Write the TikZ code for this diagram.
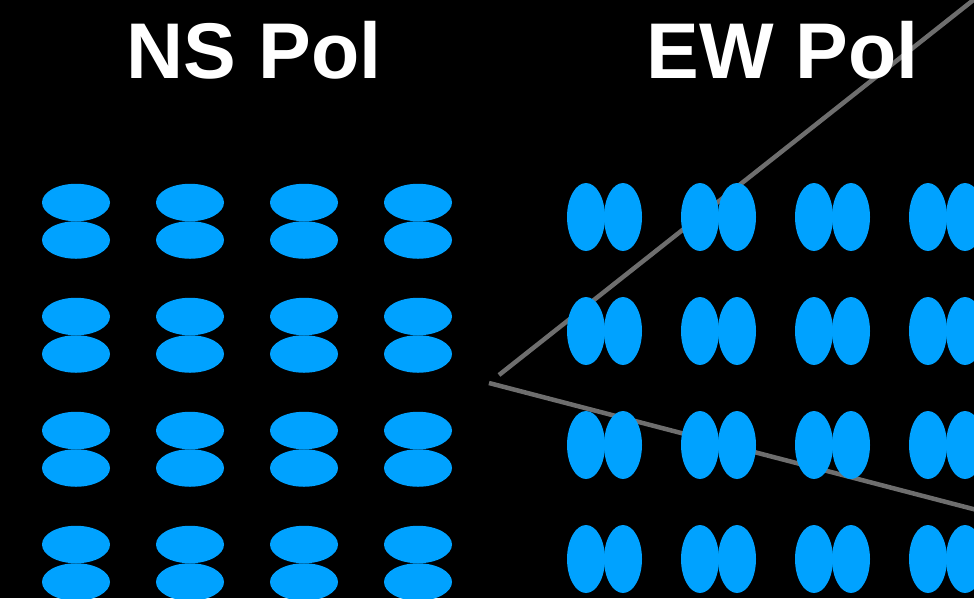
\documentclass[tikz,border=0pt]{standalone}
\usepackage{fontspec}
\setmainfont{Liberation Sans}
\definecolor{dip}{HTML}{00A2FF}
\definecolor{beam}{HTML}{6E6E6E}
\tikzset{
  nsel/.style={ellipse,fill=dip,inner sep=0pt,minimum width=68pt,minimum height=37.5pt},
  ewel/.style={ellipse,fill=dip,inner sep=0pt,minimum width=38pt,minimum height=68pt},
  title/.style={text=white,font=\fontsize{79}{90}\selectfont\bfseries,anchor=base,inner sep=0pt},
  beamline/.style={draw=beam,line width=4.5pt}
}
\usetikzlibrary{shapes.geometric}
\begin{document}
\begin{tikzpicture}[x=1pt,y=-1pt]
\fill[black] (0,0) rectangle (974,598);
\useasboundingbox (0,0) rectangle (974,598);
\begin{scope}
\clip (0,0) rectangle (974,598);
% beams
\coordinate (b1s) at (499,375);
\coordinate (b1e) at (1000,-21);
\coordinate (b2s) at (489,383);
\coordinate (b2e) at (1000,516);
\draw[beamline] (b1s) -- (b1e);
\draw[beamline] (b2s) -- (b2e);
% titles
\node[title] (ns) at (254,78.3) {NS Pol};
\node[title] (ew) at (782.5,78.3) {EW Pol};
% NS dipoles
\foreach \i/\x in {1/76,2/190,3/304,4/418}{
  \foreach \j/\y in {1/202.5,2/316.5,3/430.5,4/544.5}{
    \node[nsel] (nsa\i\j) at (\x,\y+37.5) {};
    \node[nsel] (nsb\i\j) at (\x,\y) {};
  }
}
% EW dipoles
\foreach \i/\x in {1/586,2/700,3/814,4/928}{
  \foreach \j/\y in {1/217,2/331,3/445,4/559}{
    \node[ewel] (ewa\i\j) at (\x,\y) {};
    \node[ewel] (ewb\i\j) at (\x+37,\y) {};
  }
}
\end{scope}
\end{tikzpicture}
\end{document}
